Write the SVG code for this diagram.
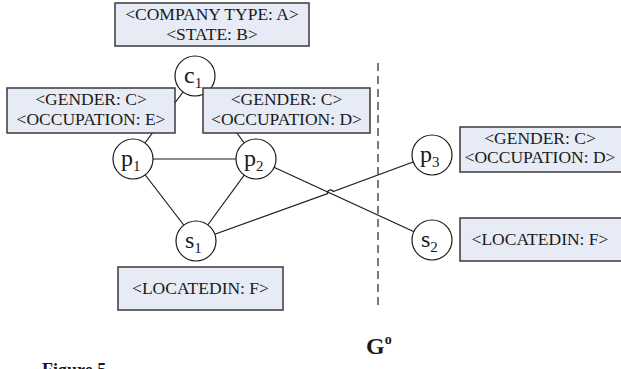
<svg xmlns="http://www.w3.org/2000/svg" width="621" height="369" viewBox="0 0 621 369">
<style>
.box{fill:#e6ebf5;stroke:#3a3a3a;stroke-width:1.5}
.bt{font-family:"Liberation Serif",serif;font-size:17.5px;fill:#1a1a1a;text-anchor:middle}
.node{fill:#ffffff;stroke:#1a1a1a;stroke-width:1.2}
.nl{font-family:"Liberation Serif",serif;font-size:24px;fill:#1a1a1a}
.sub{font-size:15px}
.edge{stroke:#1a1a1a;stroke-width:1.2;fill:none}
</style>
<rect width="621" height="369" fill="#ffffff"/>
<g id="connectors">
<line class="edge" x1="195" y1="76" x2="133" y2="159"/>
<line class="edge" x1="195" y1="76" x2="256" y2="159"/>
<line class="edge" x1="133" y1="159" x2="256" y2="159"/>
<line class="edge" x1="133" y1="159" x2="196" y2="241"/>
<line class="edge" x1="256" y1="159" x2="196" y2="241"/>
<line class="edge" x1="256" y1="159" x2="432" y2="240"/>
<path class="edge" d="M196,241 L327.6,193.6 A3,3 0 0 1 333.2,191.6 L432,155"/>
</g>
<line id="separator" x1="378" y1="63" x2="378" y2="310" stroke="#333" stroke-width="1.3" stroke-dasharray="8,5"/>
<g id="c1">
<circle class="node" cx="195" cy="76" r="20"/>
<text class="nl" x="184" y="83">c<tspan class="sub" dy="5">1</tspan></text>
</g>
<g id="c1-attr">
<rect class="box" x="115" y="3" width="194" height="43"/>
<text class="bt" x="212" y="20" font-size="17">&lt;COMPANY TYPE: A&gt;</text>
<text class="bt" x="212" y="40" font-size="17">&lt;STATE: B&gt;</text>
</g>
<g id="p1-attr">
<rect class="box" x="7" y="88" width="168" height="45"/>
<text class="bt" x="91" y="105">&lt;GENDER: C&gt;</text>
<text class="bt" x="91" y="125">&lt;OCCUPATION: E&gt;</text>
</g>
<g id="p2-attr">
<rect class="box" x="203" y="88" width="167" height="45"/>
<text class="bt" x="286.5" y="105">&lt;GENDER: C&gt;</text>
<text class="bt" x="286.5" y="125">&lt;OCCUPATION: D&gt;</text>
</g>
<g id="p1">
<circle class="node" cx="133" cy="159" r="20"/>
<text class="nl" x="121" y="166">p<tspan class="sub" dy="5">1</tspan></text>
</g>
<g id="p2">
<circle class="node" cx="256" cy="159" r="20"/>
<text class="nl" x="244" y="166">p<tspan class="sub" dy="5">2</tspan></text>
</g>
<g id="s1">
<circle class="node" cx="196" cy="241" r="20"/>
<text class="nl" x="185" y="248">s<tspan class="sub" dy="5">1</tspan></text>
</g>
<g id="s1-attr">
<rect class="box" x="118" y="267" width="165" height="43"/>
<text class="bt" x="200.5" y="294">&lt;LOCATEDIN: F&gt;</text>
</g>
<g id="p3">
<circle class="node" cx="432" cy="155" r="20"/>
<text class="nl" x="420" y="162">p<tspan class="sub" dy="5">3</tspan></text>
</g>
<g id="p3-attr">
<rect class="box" x="460" y="127" width="162" height="45"/>
<text class="bt" x="540" y="144">&lt;GENDER: C&gt;</text>
<text class="bt" x="540" y="163">&lt;OCCUPATION: D&gt;</text>
</g>
<g id="s2">
<circle class="node" cx="432" cy="240" r="20"/>
<text class="nl" x="421" y="247">s<tspan class="sub" dy="5">2</tspan></text>
</g>
<g id="s2-attr">
<rect class="box" x="460" y="218" width="162" height="43"/>
<text class="bt" x="540" y="245">&lt;LOCATEDIN: F&gt;</text>
</g>
<text x="366" y="354" font-family="Liberation Serif,serif" font-size="24" font-weight="bold" fill="#1a1a1a">G<tspan font-size="14" dy="-10">o</tspan></text>
<text x="42" y="376" font-family="Liberation Serif,serif" font-size="18" font-weight="bold" fill="#1a1a1a">Figure 5</text>
</svg>
